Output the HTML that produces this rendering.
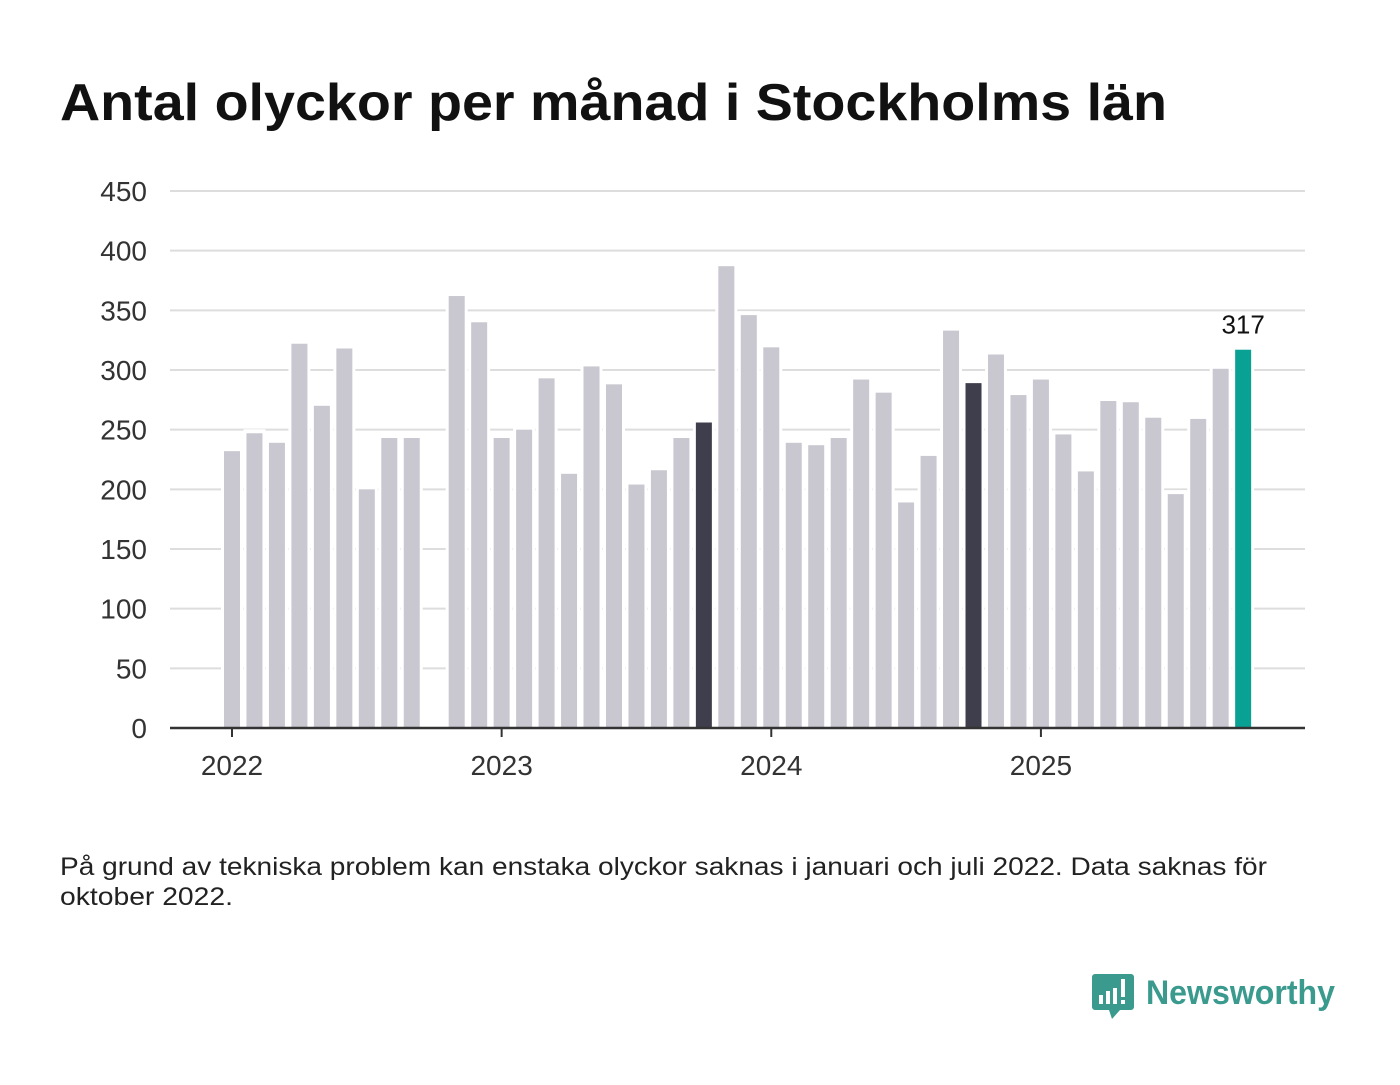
<!DOCTYPE html>
<html><head><meta charset="utf-8"><style>
body{margin:0;background:#fff;width:1400px;height:1080px;overflow:hidden;font-family:"Liberation Sans","DejaVu Sans",sans-serif;}
</style></head><body>
<svg width="1400" height="1080" xmlns="http://www.w3.org/2000/svg">
<text x="60" y="120" font-size="52" font-weight="bold" fill="#111" textLength="1107" lengthAdjust="spacingAndGlyphs">Antal olyckor per månad i Stockholms län</text>
<g id="grid"></g><g id="bars"></g><g id="axes"></g>
<text x="60" y="875" font-size="25" fill="#222" textLength="1207" lengthAdjust="spacingAndGlyphs">På grund av tekniska problem kan enstaka olyckor saknas i januari och juli 2022. Data saknas för</text>
<text x="60" y="905" font-size="25" fill="#222" textLength="173" lengthAdjust="spacingAndGlyphs">oktober 2022.</text>
<g>
<path d="M1095 974 h36 a3 3 0 0 1 3 3 v30 a3 3 0 0 1 -3 3 h-11 l-8 9 l-3 -9 h-14 a3 3 0 0 1 -3 -3 v-30 a3 3 0 0 1 3 -3z" fill="#3a9a8e"/>
<rect x="1099" y="995" width="4" height="9" fill="#fff"/><rect x="1106" y="991" width="4" height="13" fill="#fff"/><rect x="1113" y="988" width="4" height="16" fill="#fff"/><rect x="1121" y="979" width="4" height="18" fill="#fff"/><rect x="1121" y="1000" width="4" height="4" fill="#fff"/>
<text x="1146" y="1004" font-size="34" font-weight="bold" fill="#3a9a8e" textLength="189" lengthAdjust="spacingAndGlyphs">Newsworthy</text>
</g>
</svg>
<script>
const years=["2022","2023","2024","2025"];
const ticks=[0,50,100,150,200,250,300,350,400,450];
const values2022=[232,247,239,322,270,318,200,243,243,null,362,340];
const values2023=[243,250,293,213,303,288,204,216,243,256,387,346];
const values2024=[319,239,237,243,292,281,189,228,333,289,313,279];
const values2025=[292,246,215,274,273,260,196,259,301,317];
const highlightMonth=9;
const allVals=[].concat(values2022,values2023,values2024,values2025);
const NS="http://www.w3.org/2000/svg";
const y0=728,pxPerUnit=(728-191)/450;
const yS=v=>y0-v*pxPerUnit;
const xS=i=>232+i*22.47;
function mk(t,a,p){const e=document.createElementNS(NS,t);for(const k in a)e.setAttribute(k,a[k]);p.appendChild(e);return e;}
const grid=document.getElementById('grid'),bars=document.getElementById('bars'),axes=document.getElementById('axes');
ticks.forEach(t=>{
 if(t>0){const l=mk('line',{x1:170,x2:1305,y1:yS(t),y2:yS(t),stroke:'#ddd','stroke-width':2},grid);
 
 }
 const tx=mk('text',{x:147,y:yS(t)+10,'text-anchor':'end','font-size':28,fill:'#333'},axes);tx.textContent=t;
 
 
});
allVals.forEach((v,i)=>{
 if(v==null)return;
 const x=xS(i);
 const bg=mk('rect',{x:x-11,y:yS(v)-4,width:22,height:y0-yS(v)+4,fill:'#fff'},bars);
 
 
 const last=i===allVals.length-1;
 const col=last?'#0aa195':(i%12===highlightMonth?'#3f3e4c':'#c9c8d0');
 const r=mk('rect',{x:x-8,y:yS(v),width:16,height:y0-yS(v),fill:col},bars);
 
 
 if(last){const t=mk('text',{x:x,y:yS(v)-16,'text-anchor':'middle','font-size':26,fill:'#111'},bars);t.textContent=v;
 
 }
});
const ax=mk('line',{x1:170,x2:1305,y1:y0,y2:y0,stroke:'#333','stroke-width':2.5},axes);


years.forEach((yr,k)=>{
 const x=xS(k*12);
 const tk=mk('line',{x1:x,x2:x,y1:y0,y2:y0+9,stroke:'#333','stroke-width':2},axes);
 
 
 const t=mk('text',{x:x,y:775,'text-anchor':'middle','font-size':28,fill:'#333'},axes);t.textContent=yr;
 
 
});
</script>
</body></html>
